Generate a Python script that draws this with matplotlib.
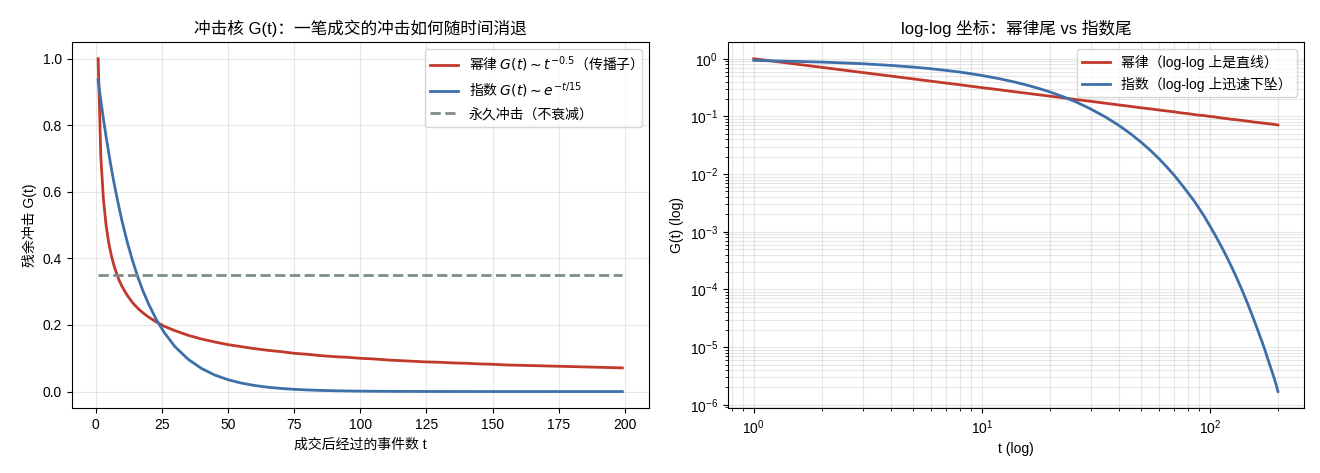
import numpy as np
import matplotlib
matplotlib.use('Agg')
import matplotlib.pyplot as plt

plt.rcParams['font.family'] = ['Liberation Sans', 'Noto Sans CJK SC', 'DejaVu Sans']
plt.rcParams['axes.unicode_minus'] = False

# values
t = [1, 2, 3, 4, 5, 6, 7, 8, 9, 10, 12, 14, 16, 18, 20, 23, 26, 30, 35, 40, 45, 50,
     55, 60, 65, 70, 75, 80, 85, 90, 95, 100, 105, 110, 115, 120, 125, 130, 135, 140,
     145, 150, 155, 160, 165, 170, 175, 180, 185, 190, 195, 199]
g_power = [1.0, 0.707, 0.577, 0.5, 0.447, 0.408, 0.378, 0.354, 0.333, 0.316, 0.289,
           0.267, 0.25, 0.236, 0.224, 0.209, 0.196, 0.183, 0.169, 0.158, 0.149, 0.141,
           0.135, 0.129, 0.124, 0.12, 0.115, 0.112, 0.108, 0.105, 0.103, 0.1, 0.098,
           0.095, 0.093, 0.091, 0.089, 0.088, 0.086, 0.085, 0.083, 0.082, 0.080,
           0.079, 0.078, 0.077, 0.076, 0.075, 0.074, 0.073, 0.072, 0.071]
g_exp = [0.936, 0.875, 0.819, 0.766, 0.717, 0.670, 0.627, 0.587, 0.549, 0.513, 0.449,
         0.393, 0.344, 0.301, 0.264, 0.216, 0.177, 0.135, 0.097, 0.0695, 0.0498, 0.0357,
         0.0256, 0.0183, 0.0131, 0.0094, 0.0067, 0.0048, 0.0035, 0.0025, 0.0018,
         0.00127, 9.1e-4, 6.5e-4, 4.7e-4, 3.35e-4, 2.4e-4, 1.72e-4, 1.23e-4, 8.8e-5,
         6.3e-5, 4.5e-5, 3.2e-5, 2.3e-5, 1.65e-5, 1.2e-5, 8.6e-6, 6.1e-6, 4.4e-6,
         3.2e-6, 2.3e-6, 1.7e-6]
permanent = [0.35] * len(t)

red = '#c0392b'
blue = '#3d6fa8'
grey = '#7f8c8d'

fig, (ax1, ax2) = plt.subplots(1, 2, figsize=(13.2, 4.73), dpi=100)
fig.subplots_adjust(left=0.0545, right=0.988, top=0.911, bottom=0.137, wspace=0.137)

ax1.plot(t, g_power, color=red, lw=2, label=r'幂律 $G(t) \sim t^{-0.5}$（传播子）')
ax1.plot(t, g_exp, color=blue, lw=2, label=r'指数 $G(t) \sim e^{-t/15}$')
ax1.plot(t, permanent, color=grey, lw=2, ls='--', label='永久冲击（不衰减）')
ax1.set_title('冲击核 G(t)：一笔成交的冲击如何随时间消退')
ax1.set_xlabel('成交后经过的事件数 t')
ax1.set_ylabel('残余冲击 G(t)')
ax1.grid(alpha=0.3)
ax1.legend(loc='upper right', prop={'family': 'Noto Sans CJK SC', 'size': 10})

ax2.loglog(t, g_power, color=red, lw=2, label='幂律（log-log 上是直线）')
ax2.loglog(t, g_exp, color=blue, lw=2, label='指数（log-log 上迅速下坠）')
ax2.set_title('log-log 坐标：幂律尾 vs 指数尾')
ax2.set_xlabel('t (log)')
ax2.set_ylabel('G(t) (log)')
ax2.grid(alpha=0.3, which='both')
ax2.legend(loc='upper right')

plt.savefig('out.png')
